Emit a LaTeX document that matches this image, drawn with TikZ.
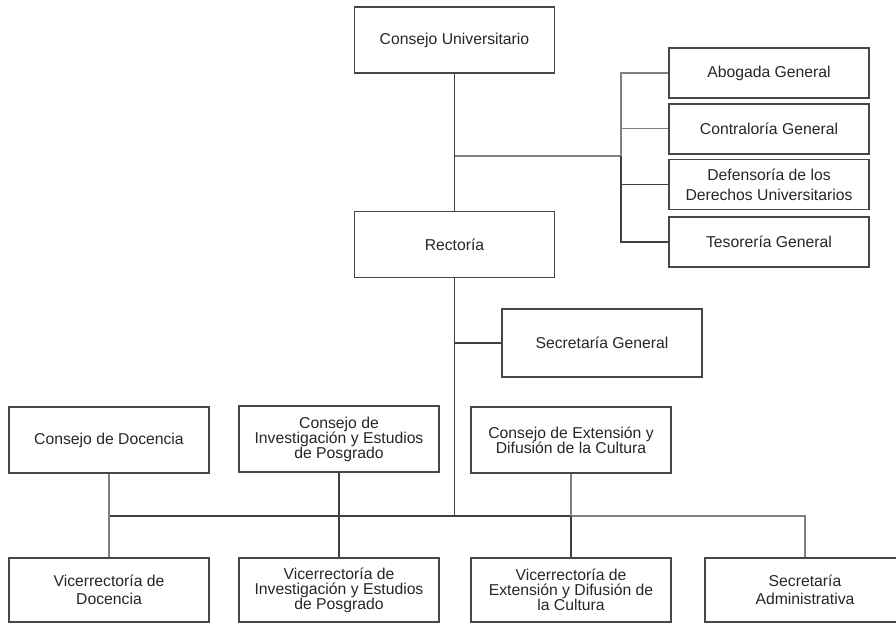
\documentclass[tikz,border=0pt]{standalone}
\usepackage{fontspec}
\setmainfont{Liberation Sans}
\usetikzlibrary{positioning}
\tikzset{
  box/.style={draw=black!72, line width=1pt, align=center, text=black!85, inner sep=2pt,
    font=\fontsize{11.8}{11.3}\selectfont, minimum width=150pt, minimum height=49.5pt},
  side/.style={box, minimum height=37.5pt},
  low/.style={box, minimum height=48pt},
  loose/.style={font=\fontsize{11.8}{13.8}\selectfont},
  link/.style={draw=black!75, line width=0.9pt},
  lite/.style={draw=black!50, line width=0.9pt}
}
\begin{document}
\begin{tikzpicture}[x=0.75pt, y=-0.75pt, node distance=3.4pt]
\useasboundingbox (0,0) rectangle (896,624);
% top of the chart
\node[box] (cu) at (454.5,40) {Consejo Universitario};
\node[box] (rect) at (454.5,244.5) {Rectoría};
\node[side] (abog) at (769,73) {Abogada General};
\node[side, below=of abog] (contr) {Contraloría General};
\node[side, loose, below=of contr, font=\fontsize{11.8}{15}\selectfont] (def) {Defensoría de los\\Derechos Universitarios};
\node[side, below=4.5pt of def] (tes) {Tesorería General};
\node[box, minimum height=51pt] (sg) at (602,343) {Secretaría General};
% councils
\node[box] (cd) at (109,440) {Consejo de Docencia};
\node[box] (ci) at (339,439) {Consejo de\\Investigación y Estudios\\de Posgrado};
\node[box] (ce) at (571,440) {Consejo de Extensión y\\Difusión de la Cultura};
% vice-rectorates
\node[low, loose] (vd) at (109,590) {Vicerrectoría de\\Docencia};
\node[low] (vi) at (339,590) {Vicerrectoría de\\Investigación y Estudios\\de Posgrado};
\node[low] (ve) at (571,590) {Vicerrectoría de\\Extensión y Difusión de\\la Cultura};
\node[low, loose] (sa) at (805,590) {Secretaría\\Administrativa};
\coordinate (brk) at (621,156);
\coordinate (bus) at (454.5,516);
\draw[link] (cu.south) -- (rect.north);
\draw[lite] (cu.south |- brk) -- (brk);
\draw[lite] (abog.west) -| (brk);
\draw[link] (tes.west) -| (brk);
\draw[lite] (contr.west) -- (contr.west -| brk);
\draw[link] (def.west) -- (def.west -| brk);
\draw[link] (rect.south) -- (bus);
\draw[link] (sg.west) -- (sg.west -| bus);
\draw[link] (cd.south |- bus) -- (ce.south |- bus);
\draw[lite] (ce.south |- bus) -| (sa.north);
\draw[lite] (cd.south) -- (vd.north);
\draw[link] (ci.south) -- (vi.north);
\draw[lite] (ce.south) -- (ce.south |- bus);
\draw[link] (ce.south |- bus) -- (ve.north);
\end{tikzpicture}
\end{document}
